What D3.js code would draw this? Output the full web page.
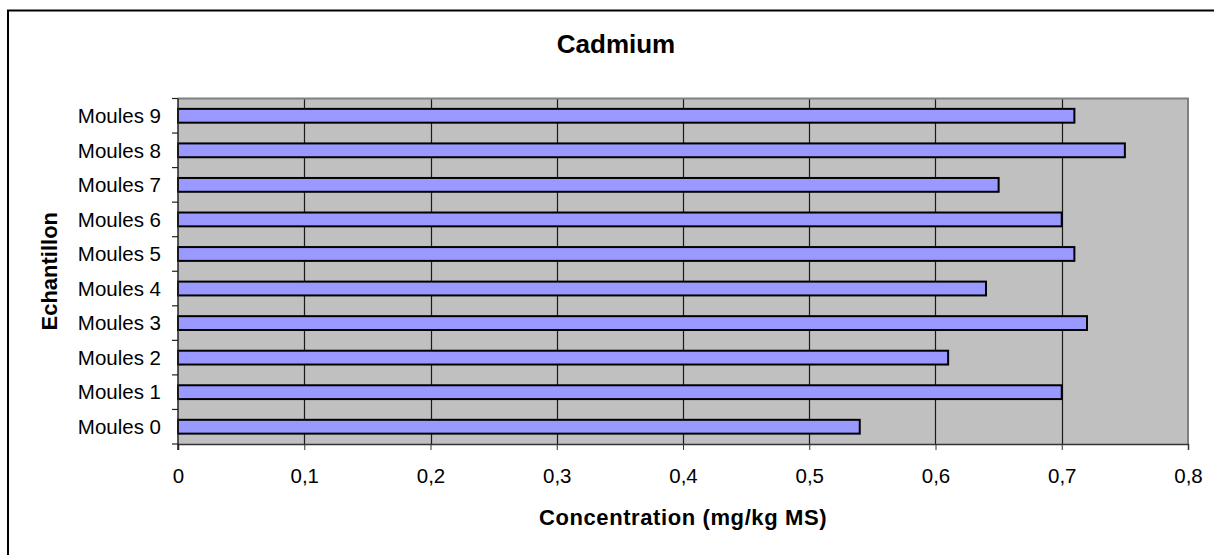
<!DOCTYPE html>
<html>
<head>
<meta charset="utf-8">
<script src="https://cdn.jsdelivr.net/npm/d3@7"></script>
<style>
  html, body { margin: 0; padding: 0; background: #fff; }
  svg { display: block; }
  text { font-family: "Liberation Sans", Arial, sans-serif; fill: #000; }
</style>
</head>
<body>
<svg id="chart" width="1214" height="555"></svg>
<script>
const categories = ["Moules 0", "Moules 1", "Moules 2", "Moules 3", "Moules 4",
                    "Moules 5", "Moules 6", "Moules 7", "Moules 8", "Moules 9"];
const values = [0.54, 0.70, 0.61, 0.72, 0.64, 0.71, 0.70, 0.65, 0.75, 0.71];
const xTicks = [0, 0.1, 0.2, 0.3, 0.4, 0.5, 0.6, 0.7, 0.8];
const title = "Cadmium";
const xTitle = "Concentration (mg/kg MS)";
const yTitle = "Echantillon";

const svg = d3.select("#chart");
const plot = { left: 178, right: 1188, top: 98.5, bottom: 444 };

// outer chart border (extends beyond the visible frame)
svg.append("rect")
  .attr("x", 8).attr("y", 10.5)
  .attr("width", 1230).attr("height", 580)
  .attr("fill", "#fff").attr("stroke", "#000").attr("stroke-width", 2);

const x = d3.scaleLinear().domain([0, 0.8]).range([plot.left, plot.right]);
const y = d3.scaleBand()
  .domain(categories.slice().reverse())
  .range([plot.top, plot.bottom])
  .paddingInner(0.6).paddingOuter(0.3);

// plot background
svg.append("rect")
  .attr("x", plot.left).attr("y", plot.top)
  .attr("width", plot.right - plot.left).attr("height", plot.bottom - plot.top)
  .attr("fill", "#C0C0C0");

// vertical gridlines
svg.append("g").selectAll("line")
  .data(xTicks.filter(t => t > 0 && t < 0.8))
  .join("line")
  .attr("x1", d => Math.round(x(d)) + 0.5).attr("x2", d => Math.round(x(d)) + 0.5)
  .attr("y1", plot.top).attr("y2", plot.bottom)
  .attr("stroke", "#1a1a1a").attr("stroke-width", 1.2);

// plot border (top & right grey)
svg.append("path")
  .attr("d", `M${plot.left},${plot.top}H${plot.right}V${plot.bottom}`)
  .attr("fill", "none").attr("stroke", "#808080").attr("stroke-width", 2);

// bars
svg.append("g").selectAll("rect")
  .data(categories.map((c, i) => ({ c, v: values[i] })))
  .join("rect")
  .attr("x", x(0))
  .attr("y", d => y(d.c))
  .attr("width", d => x(d.v) - x(0))
  .attr("height", y.bandwidth())
  .attr("fill", "#9999FF")
  .attr("stroke", "#000").attr("stroke-width", 2);

// x axis
const xAxis = d3.axisBottom(x).tickValues(xTicks).tickSize(6)
  .tickFormat(d => d3.format(".1~f")(d).replace(".", ","));
const gx = svg.append("g").attr("transform", `translate(0,${plot.bottom})`).call(xAxis);
gx.select(".domain").attr("stroke", "#333").attr("stroke-width", 1.5);
gx.selectAll(".tick line").attr("stroke", "#333");
gx.selectAll(".tick text")
  .attr("font-size", 20.5).attr("y", 39.3).attr("dy", 0)
  .style("font-family", '"Liberation Sans", Arial, sans-serif').attr("fill", "#000");

// y axis: line + ticks at category boundaries
const step = y.step();
const boundaries = categories.map(c => y(c) + y.bandwidth() / 2 - step / 2)
  .concat([y(categories[0]) + y.bandwidth() / 2 + step / 2]);
svg.append("line")
  .attr("x1", plot.left).attr("x2", plot.left)
  .attr("y1", plot.top).attr("y2", plot.bottom + 6)
  .attr("stroke", "#222").attr("stroke-width", 1.5);
svg.append("g").selectAll("line")
  .data(boundaries)
  .join("line")
  .attr("x1", plot.left - 6).attr("x2", plot.left)
  .attr("y1", d => d).attr("y2", d => d)
  .attr("stroke", "#222").attr("stroke-width", 1.2);

svg.append("g").selectAll("text")
  .data(categories)
  .join("text")
  .attr("x", 161)
  .attr("y", d => y(d) + y.bandwidth() / 2)
  .attr("dy", "0.35em")
  .attr("text-anchor", "end")
  .attr("font-size", 20.5)
  .text(d => d);

// titles
svg.append("text")
  .attr("x", 616).attr("y", 53.3)
  .attr("text-anchor", "middle")
  .attr("font-size", 26).attr("font-weight", "bold")
  .text(title);

svg.append("text")
  .attr("x", (plot.left + plot.right) / 2).attr("y", 525)
  .attr("text-anchor", "middle")
  .attr("font-size", 22).attr("font-weight", "bold")
  .attr("letter-spacing", 0.6)
  .text(xTitle);

svg.append("text")
  .attr("transform", `translate(56.5,${(plot.top + plot.bottom) / 2}) rotate(-90)`)
  .attr("text-anchor", "middle")
  .attr("font-size", 22).attr("font-weight", "bold")
  .text(yTitle);
</script>
</body>
</html>
